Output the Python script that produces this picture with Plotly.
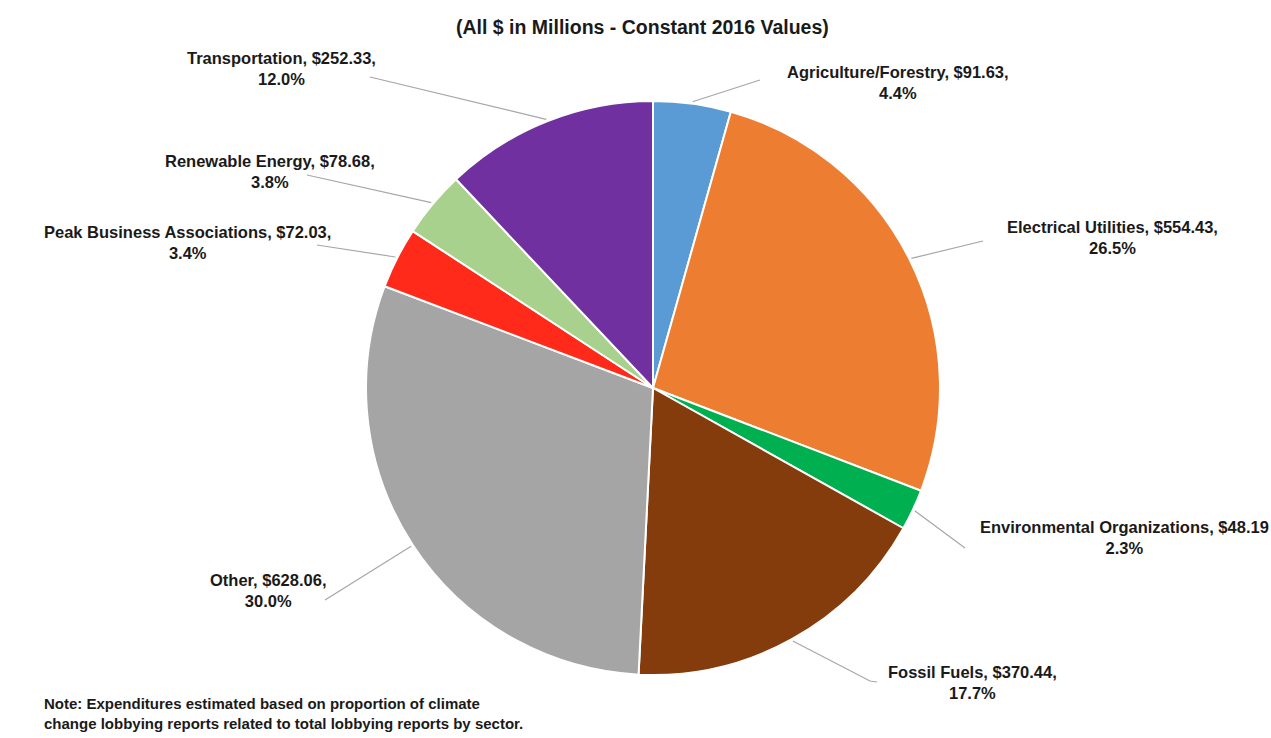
import math
import plotly.graph_objects as go

# ---- data ----
sectors = ["Agriculture/Forestry", "Electrical Utilities", "Environmental Organizations",
           "Fossil Fuels", "Other", "Peak Business Associations", "Renewable Energy",
           "Transportation"]
spend = [91.63, 554.43, 48.19, 370.44, 628.06, 72.03, 78.68, 252.33]
label_text = [
    "Agriculture/Forestry, $91.63,<br>4.4%",
    "Electrical Utilities, $554.43,<br>26.5%",
    "Environmental Organizations, $48.19<br>2.3%",
    "Fossil Fuels, $370.44,<br>17.7%",
    "Other, $628.06,<br>30.0%",
    "Peak Business Associations, $72.03,<br>3.4%",
    "Renewable Energy, $78.68,<br>3.8%",
    "Transportation, $252.33,<br>12.0%",
]
title_text = "(All $ in Millions - Constant 2016 Values)"
note_text = ("Note: Expenditures estimated based on proportion of climate<br>"
             "change lobbying reports related to total lobbying reports by sector.")

# ---- style / layout ----
colors = ["#5B9BD5", "#ED7D31", "#00B050", "#843C0C", "#A5A5A5", "#FF2A1A", "#A9D18E", "#7030A0"]
W, H = 1271, 738
CX, CY, R = 653, 388, 287  # pie center / radius in px
FONT = "Liberation Sans, Arial, sans-serif"

# label text centers (px) and leader-line start points near the text (px)
label_pos = [(898, 82), (1112, 238), (1124, 537), (972, 682),
             (268, 590), (187, 242), (270, 172), (281, 68)]
leader_start = [(760, 80), (983, 241), (965, 548), (877, 682),
                (325, 600), (317, 245), (307, 175), (370, 77)]
leader_elbow = [None, None, None, (870, 681), None, None, None, None]


def px(x):
    return x / W


def py(y):
    return 1 - y / H


fig = go.Figure(go.Pie(
    labels=sectors, values=spend, sort=False, direction="clockwise", rotation=0,
    marker=dict(colors=colors, line=dict(color="white", width=2)),
    textinfo="none", hoverinfo="label+value+percent", showlegend=False,
    domain=dict(x=[px(CX - R), px(CX + R)], y=[py(CY + R), py(CY - R)]),
))

total = sum(spend)
cum = 0
shapes = []
annotations = []
for i, v in enumerate(spend):
    mid = (cum + v / 2) / total * 2 * math.pi
    cum += v
    ex = CX + (R + 2) * math.sin(mid)
    ey = CY - (R + 2) * math.cos(mid)
    sx, sy = leader_start[i]
    pts = [(sx, sy)]
    if leader_elbow[i]:
        pts.append(leader_elbow[i])
    pts.append((ex, ey))
    path = "M " + " L ".join(f"{px(a):.5f},{py(b):.5f}" for a, b in pts)
    shapes.append(dict(type="path", xref="paper", yref="paper", path=path,
                       line=dict(color="#A6A6A6", width=1.2)))
    lx, ly = label_pos[i]
    annotations.append(dict(x=px(lx), y=py(ly), xref="paper", yref="paper",
                            text=f"<b>{label_text[i]}</b>", showarrow=False,
                            xanchor="center", yanchor="middle", align="center",
                            font=dict(family=FONT, size=16.5, color="#1a1a1a")))

annotations.append(dict(x=px(642), y=py(27), xref="paper", yref="paper",
                        text=f"<b>{title_text}</b>", showarrow=False,
                        xanchor="center", yanchor="middle",
                        font=dict(family=FONT, size=19.5, color="#1a1a1a")))
annotations.append(dict(x=px(42), y=py(713), xref="paper", yref="paper",
                        text=f"<b>{note_text}</b>", showarrow=False,
                        xanchor="left", yanchor="middle", align="left",
                        font=dict(family=FONT, size=15, color="#1a1a1a")))

fig.update_layout(width=W, height=H, margin=dict(l=0, r=0, t=0, b=0),
                  paper_bgcolor="white", plot_bgcolor="white",
                  shapes=shapes, annotations=annotations)

fig.write_html("out.html")
